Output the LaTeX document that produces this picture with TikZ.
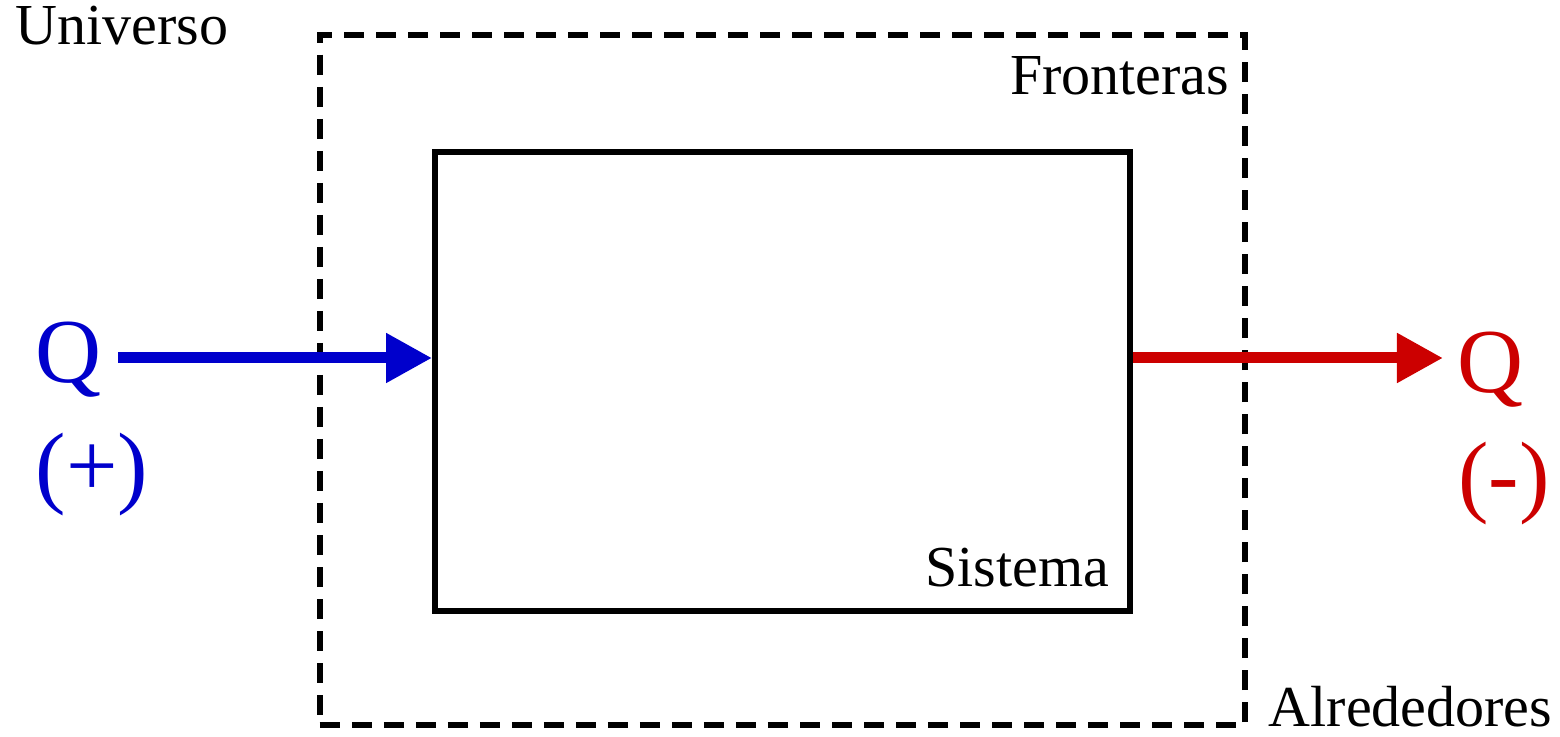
\documentclass[tikz,border=0pt]{standalone}
\usepackage{fontspec}
\setmainfont{Liberation Serif}
\usepackage{tikz}
\usetikzlibrary{calc}
\usetikzlibrary{arrows.meta}

\definecolor{azul}{RGB}{0,0,204}
\definecolor{rojo}{RGB}{204,0,0}

\begin{document}
\begin{tikzpicture}[x=0.01cm,y=-0.01cm,
  rotulo/.style={inner sep=0pt,font=\fontsize{16.5}{19}\selectfont},
  calor/.style={inner sep=0pt,font=\fontsize{26}{30}\selectfont},
  flujo/.style={line width=0.11cm,-{Triangle[length=0.46cm,width=0.47cm]}}]
\useasboundingbox (0,0) rectangle (1560,737);
% fronteras y sistema
\node (frontera) at (782.5,380) [draw,line width=0.06cm,dash pattern=on 0.2cm off 0.12cm,minimum width=9.25cm,minimum height=6.9cm] {};
\node (sistema) at (782.5,381.5) [draw,line width=0.055cm,minimum width=6.95cm,minimum height=4.59cm] {};
% textos
\node (universo) at (15,45) [rotulo,anchor=base west] {Universo};
\node (fronteras) at (1230,95) [rotulo,anchor=base east] {Fronteras};
\node (sist) at (1110,587) [rotulo,anchor=base east] {Sistema};
\node (alrededores) at (1268,726) [rotulo,anchor=base west] {Alrededores};
% calor que entra y que sale
\node (qin) at (69,383) [calor,azul,anchor=base] {Q};
\node (signoin) at (92,497) [calor,azul,anchor=base] {(+)};
\node (qout) at (1490,393) [calor,rojo,anchor=base] {Q};
\node (signoout) at (1504,506) [calor,rojo,anchor=base] {(-)};
\coordinate (ini) at (118,358);
\coordinate (fin) at (1443,358);
\draw [flujo,azul] (ini) -- (ini -| sistema.west);
\draw [flujo,rojo] (fin -| sistema.east) -- (fin);
\end{tikzpicture}
\end{document}
